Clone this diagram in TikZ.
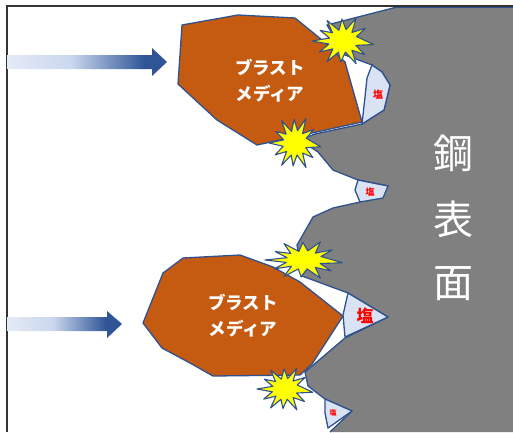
\documentclass[tikz,border=0pt]{standalone}
\usepackage{fontspec}
\newfontfamily\jp{Noto Sans CJK JP}
\definecolor{steelgray}{HTML}{808080}
\definecolor{edgeblue}{HTML}{2F528F}
\definecolor{mediabrown}{HTML}{C55A11}
\definecolor{saltfill}{HTML}{DAE3F3}
\definecolor{burstyellow}{HTML}{FFFF00}
\definecolor{saltred}{HTML}{FF0000}
\definecolor{fadeA}{HTML}{E4EAF6}
\definecolor{fadeB}{HTML}{CBD7EE}
\definecolor{fadeC}{HTML}{2F5597}
\pgfdeclarehorizontalshading{arrowfade}{100bp}{color(0bp)=(fadeA); color(25bp)=(fadeA); color(45bp)=(fadeB); color(68bp)=(fadeC); color(100bp)=(fadeC)}
\tikzset{
  outline/.style={draw=edgeblue, line width=1.3pt, line join=round},
  media/.style={outline, fill=mediabrown},
  salt/.style={outline, fill=saltfill},
  burststyle/.style={outline, fill=burstyellow, line width=1.1pt},
  pusharrow/.style={shading=arrowfade},
  mediatext/.style={text=white, align=center, font=\jp\bfseries\fontsize{17.5}{26}\selectfont},
  salttext/.style={text=saltred, font=\jp\bfseries\fontsize{#1}{#1}\selectfont},
  steeltext/.style={text=white, font=\jp\fontsize{40}{40}\selectfont},
}
% jagged impact burst centred at (#1,#2), half-widths #3 and #4
\newcommand\drawburst[4]{%
  \draw[burststyle, shift={(#1,#2)}, xscale=#3, yscale=#4]
    (8:1) -- (23:0.45) -- (38:0.88) -- (52:0.47) -- (65:1) -- (80:0.45)
    -- (95:0.85) -- (108:0.47) -- (122:0.97) -- (136:0.45) -- (150:0.88)
    -- (165:0.47) -- (180:1) -- (195:0.45) -- (210:0.85) -- (224:0.47)
    -- (238:0.97) -- (253:0.45) -- (268:0.88) -- (282:0.47) -- (295:1)
    -- (310:0.45) -- (325:0.88) -- (338:0.47) -- cycle;}
\begin{document}
\begin{tikzpicture}[x=1pt,y=-1pt]
\useasboundingbox (0,0) rectangle (513,432);
\fill[white] (0,0) rectangle (513,432);

% steel body
\fill[steelgray] (397,7) -- (513,7) -- (513,432) -- (330,432) -- (352,411)
  -- (325,399) -- (308,386) -- (305,372) -- (345,338) -- (388,317) -- (348,293)
  -- (302,276) -- (300,262) -- (297,245) -- (313,217) -- (333,208) -- (360,202)
  -- (388,186) -- (358,180) -- (333,170) -- (318,152) -- (300,140) -- (315,134)
  -- (362,124) -- (384,110) -- (390,85) -- (382,72) -- (372,65) -- (345,55)
  -- (336,40) -- (327,25) -- cycle;
\draw[outline] (397,7) -- (327,25) -- (336,40) -- (345,55) -- (372,65)
  -- (382,72) -- (390,85) -- (384,110) -- (362,124) -- (315,134) -- (300,140)
  -- (318,152) -- (333,170) -- (358,180) -- (388,186) -- (360,202) -- (333,208)
  -- (313,217) -- (297,245) -- (300,262) -- (302,276) -- (348,293) -- (388,317)
  -- (345,338) -- (305,372) -- (308,386) -- (325,399) -- (352,411) -- (330,432);
\draw[edgeblue, line width=1.3pt] (397,7) -- (513,7);

% frame
\draw[black!80, line width=1.4pt] (7,432) -- (7,6) -- (513,6);

% salt deposits
\draw[salt] (372,65) -- (382,72) -- (390,85) -- (384,110) -- (362,124)
  -- (365,97) -- (367,78) -- cycle;
\draw[salt] (358,180) -- (388,186) -- (383,198) -- (360,202) -- (355,190) -- cycle;
\draw[salt] (348,293) -- (388,317) -- (345,337) -- (343,315) -- cycle;
\draw[salt] (325,399) -- (352,411) -- (328,428) -- (325,413) -- cycle;
\node[salttext=10] (salt1) at (378,95) {塩};
\node[salttext=9] (salt2) at (370,192) {塩};
\node[salttext=17] (salt3) at (365,316) {塩};
\node[salttext=7] (salt4) at (333,413) {塩};

% blast media
\draw[media] (182,25) -- (238,15) -- (295,18) -- (322,40) -- (345,62)
  -- (362,122) -- (312,133) -- (257,145) -- (217,120) -- (178,84) -- cycle;
\draw[media] (183,258) -- (240,255) -- (273,267) -- (300,282) -- (343,316)
  -- (312,364) -- (300,375) -- (213,376) -- (190,363) -- (162,348)
  -- (143,323) -- (163,273) -- cycle;
\node[mediatext] (media1) at (270,81) {ブラスト\\メディア};
\node[mediatext] (media2) at (243,316) {ブラスト\\メディア};

% impacts
\drawburst{343}{41}{31}{25}
\drawburst{295}{143}{26}{27}
\drawburst{304}{260}{39}{20}
\drawburst{285}{389}{28}{23}

% steel label
\node[steeltext] (kou) at (453,153) {鋼};
\node[steeltext] (hyou) at (453,219) {表};
\node[steeltext] (men) at (453,284) {面};

% propulsion arrows
\path[pusharrow] (7,55) -- (152,55) -- (152,48) -- (167,62) -- (152,76)
  -- (152,69) -- (7,69) -- cycle;
\path[pusharrow] (7,317) -- (107,317) -- (107,311) -- (122,324) -- (107,338)
  -- (107,331) -- (7,331) -- cycle;
\end{tikzpicture}
\end{document}
